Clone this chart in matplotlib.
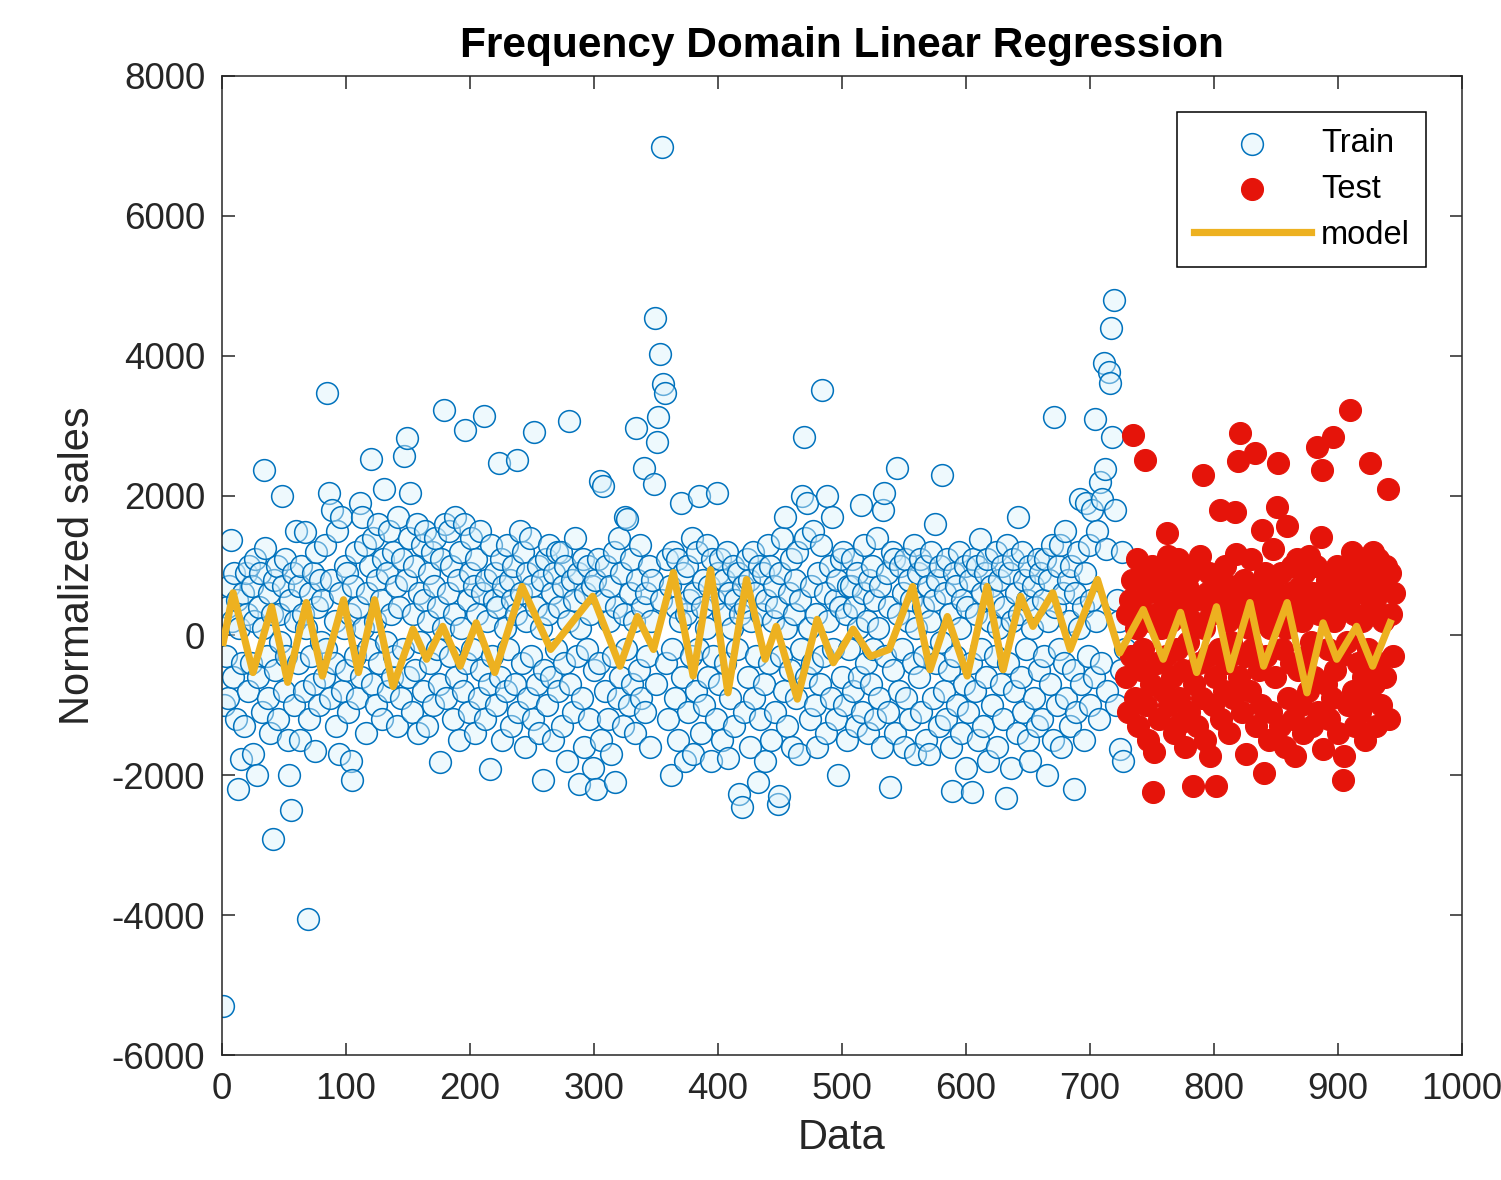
import numpy as np
import matplotlib
matplotlib.use('Agg')
import matplotlib.pyplot as plt

# normalized sales, training part (one value per data index, starting at 1)
train_y = [
    -5300, -1000, -300, 400, -900, 700, 1360, 200, -600, 900, -1200, 500, -2200, 100, -1770, -400, 600, -1300, 900, 300,
    -800, 1000, -400, 700, -1700, 200, 1100, -2000, -600, 400, 900, -1100, 100, 2370, 1250, -300, -900, 600, -1400, 300,
    -2910, 800, -500, 1000, -1200, 300, -100, 2000, 700, -800, 1100, -300, -1500, -2000, 500, -2490, 900, -1000, 200, 1500,
    -400, 700, -1500, 1000, 300, -800, 1480, 100, -4060, -1200, 600, -300, 900, -700, -1650, 1200, 400, -1000, 800, -100,
    500, -600, 1300, -200, 3470, 2040, -900, 800, 1800, -400, 200, -1300, 1500, -1700, 600, 1700, -800, 100, 1000, -500,
    900, -1100, 300, -1800, -2060, 700, -300, 1200, -900, 400, 1900, -600, 1700, 100, 1300, -1400, 600, -200, 1000, 2530,
    -700, 1400, 200, -1000, 800, 1600, -400, 500, -1200, 1100, 2090, -100, 900, -800, 1500, 300, -600, 1200, -300, 700,
    -1300, 1700, 400, -900, 1100, -200, 2570, 800, 2830, -600, 1400, 2040, -1100, 300, 1000, -500, 1600, -1400, 600, -100,
    1300, -800, 500, 1500, -1300, 200, 900, -400, 1200, -1000, 700, 1400, -200, 400, -700, -1810, 1100, 100, 3230, 1600,
    -900, 600, 1500, -300, 1000, -1200, 300, 1700, -600, 800, -1500, 1200, 100, -800, 1600, 2940, -400, 500, -1100, 900,
    1400, -200, 700, -1400, 1100, 300, -900, 1500, -500, 600, 3140, -1200, 800, 200, -700, -1910, 1300, -300, 500, 900,
    -1000, 400, 2460, -600, 1100, -1500, 700, 100, -800, 1300, -200, 800, -1300, 500, 1000, -700, 300, 2510, -1100, 1500,
    600, -400, 1200, -1600, 200, 900, -900, 1400, -300, 700, -1200, 2910, 400, -700, 1000, -1400, 100, 800, -2060, -500,
    1100, -1000, 300, 1300, -600, 600, -1500, 900, -200, 1200, -800, 400, 1200, -1300, 700, -400, 1000, -1800, 200, 3060,
    -700, 800, -1100, 500, 1400, -300, 900, -2130, 100, -900, 1100, -1600, 600, -200, 1000, -1200, 300, 700, -1900, -500,
    800, -2190, 1100, -400, 2210, -1500, 2140, 500, -800, 1000, -1200, 200, 700, -1700, -300, 1200, -2100, 400, -900, 1400,
    -600, 900, -1300, 300, 1700, -200, 1660, -1000, 600, 1100, -700, 200, -1400, 2970, 800, -500, 1300, -900, 400, 2400,
    -1100, 600, -300, 1000, -1600, 200, 800, 2170, 4540, -700, 2770, 3130, 4030, 500, 6990, 3590, 3470, -400, 1100, -1200,
    700, -2000, -200, 1200, -900, 400, 1100, -1500, 200, 1900, -600, 900, -1800, 300, 1000, -1100, 500, -300, 1400, -1700,
    600, -800, 1200, -200, 1990, -1400, 400, 800, -1000, 100, 1300, -600, 700, -1800, 1100, -300, 500, -1200, 2030, 900,
    -700, 1100, -1500, 300, 800, -400, 1200, -1750, 600, -900, 100, 1000, -1300, 500, -200, 900, -2270, 300, -2460, 700,
    -1100, 400, 1100, -600, 800, -1600, 200, 1200, -900, 600, -300, -2100, 1000, -1200, 300, 900, -700, -1800, 500, 1300,
    -400, 1000, -1500, 200, 700, -1100, 400, -2410, -2300, 900, -300, 1400, -800, 1700, 100, -1300, 600, -500, 1100, -1600,
    300, 800, -900, 1200, -1700, 500, -200, 2000, 2840, 1400, -600, 1900, 100, -1200, 700, -400, 1500, -1000, 300, -1600,
    900, -700, 1300, 3510, -300, 600, -1400, 2000, 200, 1000, -900, 1700, -200, 500, -1200, 800, -2000, 400, 1100, -600,
    1200, -1000, 300, -1500, 700, -200, 700, 1100, -800, 400, -1300, 900, 100, -600, 1870, -1100, 600, 1300, -400, 200,
    -1400, 800, -700, 1000, -200, 500, -1200, 1400, 100, -900, 700, -1600, 1800, 2040, -300, 900, -1100, 400, -2170, 1200,
    -500, 1100, -1400, 2400, 300, -800, 1000, -200, 600, -1600, 1100, -900, 200, 800, -1200, 500, -400, 1300, -1700, 100,
    900, -600, 1100, -1100, 400, -300, 1000, -1500, 700, -1700, 200, 1200, -900, 500, 1600, -400, 800, -1300, 1000, -100,
    2290, -800, 600, -1200, 1100, -500, 300, -1600, -2230, 900, -300, 700, -1000, 1200, 100, -1400, 500, -700, 1000, -1900,
    400, -1100, 800, -400, -2240, 1100, -800, 300, 1000, -1500, 1380, -200, 600, -1300, 900, -600, 1100, -1800, 200, 700,
    -1000, 500, -300, 1200, -1600, 100, 800, -700, 1000, -1200, 400, -2330, 1300, -400, 900, -1900, 200, 1100, -800, 600,
    -1400, 1700, 300, -600, 1200, -1100, 800, -200, 500, -1500, 1000, -1800, 100, 700, -900, 400, -1300, 1100, -500, 900,
    -1200, 500, -300, 1100, -2000, 200, 800, -700, 1300, -1500, 3130, 400, -1000, 1000, -200, 1300, -1600, 600, -400, 1500,
    -900, 800, 200, -1300, 1000, -500, -2190, 600, -1100, 1200, 100, 1950, -700, 400, -1500, 900, 1900, -300, 1300, -1000,
    500, 1800, -600, 3100, 200, 1500, -1200, 2200, -400, 1950, 3890, 2380, 1230, -800, 3770, 3610, 4400, 2840, 4800, 1800,
    -1000, 500, 200, -1630, -500, 1200, -1800, -200,
]

# normalized sales, test part (continues right after the training part)
test_y = [
    -600, 300, -1100, 500, -300, 800, 2870, -900, 100, 1090, -1300, 400, -500, 840, -200, 2510, -1000, 600, -1500, 200,
    -700, 1000, -2240, -1670, 300, -400, 700, -1200, 100, 900, -800, 500, -300, 1470, 1130, -1000, 200, -600, 800, -1400,
    400, -200, 1100, -900, -1250, 600, -500, 300, -1600, 700, -100, -1100, 900, 200, -2150, -700, 500, -1300, 1000, -400,
    1130, -900, 2300, 100, -1500, 600, -300, 900, -1720, 300, -1000, 500, -600, -2150, 800, -200, 1800, -1200, 400, -800,
    1000, -400, 200, -1400, 700, -100, -900, 500, 1760, 1160, 2490, -600, 2900, 300, -1100, 800, -300, -1700, 600, 100,
    -800, 1100, -200, 400, 2610, -1300, 700, -500, 200, -1000, 1510, -1960, 900, -300, 500, -1500, 100, -1100, 700, 1230,
    -600, 300, 1840, 2470, -1300, 900, -200, 500, -1600, 100, 1560, -900, 600, -400, 1000, -1200, -1720, 300, 1090, -500,
    700, -1000, 200, -1400, 900, -300, 500, -800, 1130, -100, -1300, 600, -600, 1000, 2700, -1100, 300, 1410, 2370, -1630,
    400, -700, 800, -200, -1200, 600, -900, 2840, 200, -500, 1000, -1400, 700, -300, 400, -2060, -1720, 900, -100, -1000,
    500, 3230, 1190, -800, 300, -1300, 800, -400, 1000, -1100, 200, -600, 600, -1500, 900, -200, -900, 2470, 400, 1190,
    -700, 500, -1300, 1100, -400, 700, -1000, 200, 800, -600, 1000, 2090, -1200, 900, 300, -300, 600,
]

model_x = [1, 9, 25, 40, 53, 68, 81, 98, 110, 123, 138, 154, 165, 178, 192, 205, 220, 242, 265, 299,
           321, 335, 348, 364, 380, 394, 408, 423, 438, 447, 464, 480, 493, 509, 523, 538, 557, 571, 585, 601,
           617, 630, 644, 654, 670, 684, 706, 724, 743, 759, 773, 786, 802, 813, 829, 840, 859, 875, 888, 899,
           915, 928, 942]
model_y = [-100, 610, -530, 410, -670, 470, -580, 510, -530, 510, -730, 90, -340, 130, -440, 180, -530, 700, -200, 560,
           -440, 270, -200, 900, -580, 940, -820, 800, -340, 130, -910, 230, -390, 90, -300, -200, 700, -490, 270, -580,
           700, -490, 560, 130, 610, -200, 800, -250, 370, -340, 330, -530, 410, -490, 470, -440, 470, -820, 180, -340,
           130, -440, 180]


def main():
    plt.rcParams['font.family'] = ['Liberation Sans', 'DejaVu Sans']
    plt.rcParams['axes.unicode_minus'] = False
    axis_col = '#262626'

    x_train = np.arange(1, len(train_y) + 1)
    x_test = np.arange(len(train_y) + 1, len(train_y) + len(test_y) + 1)

    fig = plt.figure(figsize=(15.01, 11.8), dpi=100)
    ax = fig.add_axes([0.1479, 0.1059, 0.8261, 0.8297])

    ax.scatter(x_train, train_y, s=245, facecolors=(0.86, 0.95, 0.99, 0.45),
               edgecolors='#0072BD', linewidths=1.1, label='Train', zorder=2)
    ax.scatter(x_test, test_y, s=250, color='#e5140a', linewidths=0.8,
               label='Test', zorder=3)
    ax.plot(model_x, model_y, color='#EDB120', lw=5.2, label='model', zorder=4)

    ax.set_xlim(0, 1000)
    ax.set_ylim(-6000, 8000)
    ax.set_xticks(np.arange(0, 1001, 100))
    ax.set_yticks(np.arange(-6000, 8001, 2000))

    ax.tick_params(direction='in', length=9, width=1.1, top=True, right=True,
                   labelsize=26.5, colors=axis_col, pad=12)
    for sp in ax.spines.values():
        sp.set_color(axis_col)
        sp.set_linewidth(1.1)

    ax.set_xlabel('Data', fontsize=30, color=axis_col, labelpad=8)
    ax.set_ylabel('Normalized sales', fontsize=30, color=axis_col, labelpad=10)
    ax.set_title('Frequency Domain Linear Regression', fontsize=30.5,
                 fontweight='bold', color='black', pad=14)

    leg = ax.legend(loc='upper right', fontsize=23.5, fancybox=False, framealpha=1,
                    edgecolor='black', handlelength=3.6, handletextpad=0.3,
                    borderaxespad=1.1, labelspacing=0.45, borderpad=0.5)
    leg.get_frame().set_linewidth(1.1)

    fig.savefig('out.png', dpi=100, facecolor='white')


if __name__ == '__main__':
    main()
